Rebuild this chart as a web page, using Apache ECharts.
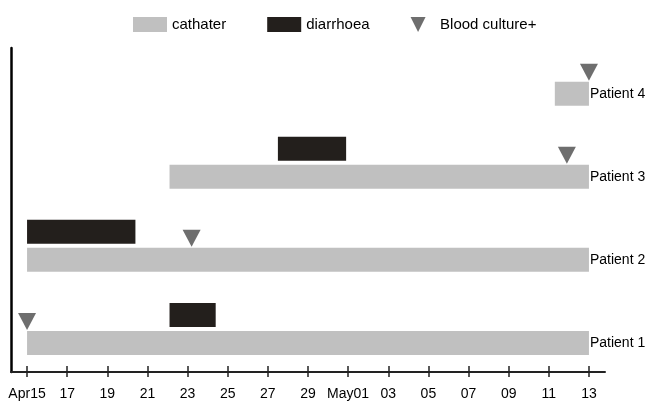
<!DOCTYPE html>
<html><head><meta charset="utf-8">
<script src="https://cdn.jsdelivr.net/npm/echarts@6/dist/echarts.min.js"></script>
<style>html,body{margin:0;padding:0;background:#fff}#c{width:653px;height:403px}</style>
</head><body><div id="c"></div>
<script>
// Days counted from Apr 15 (day 0) to May 13 (day 28)
const tickDays = [0,2,4,6,8,10,12,14,16,18,20,22,24,26,28];
const tickLabels = ['Apr15','17','19','21','23','25','27','29','May01','03','05','07','09','11','13'];
const patients = ['Patient 1','Patient 2','Patient 3','Patient 4'];
const patientRows = [1,2,3,4];
// catheter periods: [startDay, endDay, row]
const catheter = [[0,28,1],[0,28,2],[7.1,28,3],[26.3,28,4]];
// diarrhoea periods: [startDay, endDay, row]
const diarrhoea = [[7.1,9.4,1],[0,5.4,2],[12.5,15.9,3]];
// positive blood culture: [day, row]
const culture = [[0,1],[8.2,2],[26.9,3],[28,4]];

const FONT = '"Liberation Sans", Arial, sans-serif';
const C_CATH = '#c0c0c0', C_DIA = '#231f1c', C_CUL = '#6e6e6e';
const BAR_H = 24;

const chart = echarts.init(document.getElementById('c'), null, {renderer:'canvas'});
function barRender(color, offset, withLabel) {
  return function(params, api) {
    const s = api.coord([api.value(0), api.value(2)]);
    const e = api.coord([api.value(1), api.value(2)]);
    const children = [{
      type:'rect',
      shape:{x:s[0], y:s[1]-BAR_H/2+offset, width:e[0]-s[0], height:BAR_H},
      style:{fill:color}
    }];
    if (withLabel) {
      const idx = patientRows.indexOf(api.value(2));
      children.push({type:'text', x:e[0]+1, y:e[1]+offset,
        style:{text:patients[idx], fill:'#000', font:'14px '+FONT, verticalAlign:'middle', align:'left'}});
    }
    return {type:'group', children};
  };
}
chart.setOption({
  animation:false,
  grid:{left:11, right:48, top:48, bottom:31},
  legend:{
    left:128, top:12, itemWidth:34, itemHeight:15, itemGap:41,
    textStyle:{fontFamily:FONT, fontSize:15, color:'#000'},
    data:[
      {name:'cathater', icon:'rect'},
      {name:'diarrhoea', icon:'rect'},
      {name:'Blood culture+', icon:'path://M0,0 L10,0 L5,10 Z'}
    ]
  },
  xAxis:[{
    type:'value', min:-0.8, max:28.8,
    axisLine:{show:true, onZero:false, lineStyle:{color:'#222', width:2}},
    axisTick:{show:true, customValues:tickDays, length:5, lineStyle:{color:'#222', width:1.5}},
    axisLabel:{customValues:tickDays, margin:15, fontFamily:FONT, fontSize:14, color:'#000',
      formatter:(v)=>tickLabels[tickDays.indexOf(Math.round(v))] || ''},
    splitLine:{show:false}
  },{
    type:'value', min:-0.8, max:28.8, position:'bottom',
    axisLine:{show:false, onZero:false},
    axisTick:{show:true, inside:true, customValues:tickDays, length:6, lineStyle:{color:'#222', width:1.5}},
    axisLabel:{show:false}, splitLine:{show:false}
  }],
  yAxis:{
    type:'value', min:0.65, max:4.55,
    axisLine:{show:true, onZero:false, lineStyle:{color:'#000', width:2.5}},
    axisTick:{show:false}, axisLabel:{show:false}, splitLine:{show:false}
  },
  series:[
    {name:'cathater', type:'custom', itemStyle:{color:C_CATH}, data:catheter,
      encode:{x:[0,1], y:2}, renderItem:barRender(C_CATH, 0, true)},
    {name:'diarrhoea', type:'custom', itemStyle:{color:C_DIA}, data:diarrhoea,
      encode:{x:[0,1], y:2}, renderItem:barRender(C_DIA, -28, false)},
    {name:'Blood culture+', type:'custom', itemStyle:{color:C_CUL}, data:culture,
      encode:{x:0, y:1}, z:3,
      renderItem:function(params, api){
        const p = api.coord([api.value(0), api.value(1)]);
        const top = p[1]-BAR_H/2-1;
        return {type:'polygon', shape:{points:[[p[0]-9, top-17],[p[0]+9, top-17],[p[0], top]]},
          style:{fill:C_CUL}};
      }}
  ]
});
</script></body></html>
